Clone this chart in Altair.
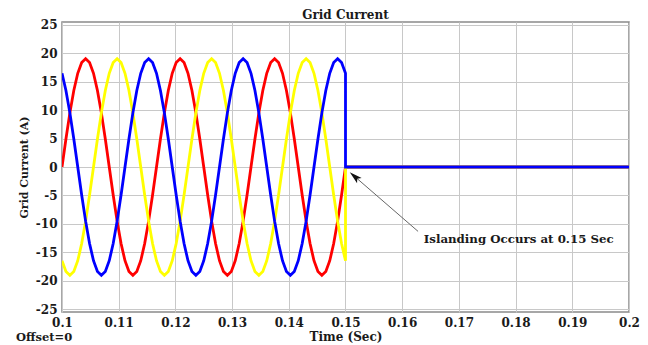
import altair as alt
import pandas as pd

# Time samples (s) for the grid-connected interval 0.1 .. 0.15
time = [0.1, 0.100694, 0.101389, 0.102083, 0.102778, 0.103472, 0.104167, 0.104861,
        0.105556, 0.10625, 0.106944, 0.107639, 0.108333, 0.109028, 0.109722, 0.110417,
        0.111111, 0.111806, 0.1125, 0.113194, 0.113889, 0.114583, 0.115278, 0.115972,
        0.116667, 0.117361, 0.118056, 0.11875, 0.119444, 0.120139, 0.120833, 0.121528,
        0.122222, 0.122917, 0.123611, 0.124306, 0.125, 0.125694, 0.126389, 0.127083,
        0.127778, 0.128472, 0.129167, 0.129861, 0.130556, 0.13125, 0.131944, 0.132639,
        0.133333, 0.134028, 0.134722, 0.135417, 0.136111, 0.136806, 0.1375, 0.138194,
        0.138889, 0.139583, 0.140278, 0.140972, 0.141667, 0.142361, 0.143056, 0.14375,
        0.144444, 0.145139, 0.145833, 0.146528, 0.147222, 0.147917, 0.148611, 0.149306,
        0.15]

phase_a = [0, 4.92, 9.5, 13.43, 16.45, 18.35, 19, 18.35, 16.45, 13.43, 9.5, 4.92,
           0, -4.92, -9.5, -13.43, -16.45, -18.35, -19, -18.35, -16.45, -13.43, -9.5, -4.92,
           0, 4.92, 9.5, 13.43, 16.45, 18.35, 19, 18.35, 16.45, 13.43, 9.5, 4.92,
           0, -4.92, -9.5, -13.43, -16.45, -18.35, -19, -18.35, -16.45, -13.43, -9.5, -4.92,
           0, 4.92, 9.5, 13.43, 16.45, 18.35, 19, 18.35, 16.45, 13.43, 9.5, 4.92,
           0, -4.92, -9.5, -13.43, -16.45, -18.35, -19, -18.35, -16.45, -13.43, -9.5, -4.92,
           0]

phase_b = [-16.45, -18.35, -19, -18.35, -16.45, -13.43, -9.5, -4.92, 0, 4.92, 9.5, 13.43,
           16.45, 18.35, 19, 18.35, 16.45, 13.43, 9.5, 4.92, 0, -4.92, -9.5, -13.43,
           -16.45, -18.35, -19, -18.35, -16.45, -13.43, -9.5, -4.92, 0, 4.92, 9.5, 13.43,
           16.45, 18.35, 19, 18.35, 16.45, 13.43, 9.5, 4.92, 0, -4.92, -9.5, -13.43,
           -16.45, -18.35, -19, -18.35, -16.45, -13.43, -9.5, -4.92, 0, 4.92, 9.5, 13.43,
           16.45, 18.35, 19, 18.35, 16.45, 13.43, 9.5, 4.92, 0, -4.92, -9.5, -13.43,
           -16.45]

phase_c = [16.45, 13.43, 9.5, 4.92, 0, -4.92, -9.5, -13.43, -16.45, -18.35, -19, -18.35,
           -16.45, -13.43, -9.5, -4.92, 0, 4.92, 9.5, 13.43, 16.45, 18.35, 19, 18.35,
           16.45, 13.43, 9.5, 4.92, 0, -4.92, -9.5, -13.43, -16.45, -18.35, -19, -18.35,
           -16.45, -13.43, -9.5, -4.92, 0, 4.92, 9.5, 13.43, 16.45, 18.35, 19, 18.35,
           16.45, 13.43, 9.5, 4.92, 0, -4.92, -9.5, -13.43, -16.45, -18.35, -19, -18.35,
           -16.45, -13.43, -9.5, -4.92, 0, 4.92, 9.5, 13.43, 16.45, 18.35, 19, 18.35,
           16.45]

# After islanding (0.15 s) all currents are zero until 0.2 s
after_time = [0.15, 0.2]
after_value = [0, 0]

series_names = ["Ia", "Ib", "Ic"]
series_colors = ["#ff0000", "#ffff00", "#0000ff"]

x_ticks = [0.1, 0.11, 0.12, 0.13, 0.14, 0.15, 0.16, 0.17, 0.18, 0.19, 0.2]
y_ticks = [-25, -20, -15, -10, -5, 0, 5, 10, 15, 20, 25]

annotation_text = ["Islanding Occurs at 0.15 Sec"]
annotation_pos = [(0.1638, -12.7)]
arrow_tail = [(0.1628, -11.3)]
arrow_head = [(0.1516, -1.65)]

rows = []
for name, vals in zip(series_names, [phase_a, phase_b, phase_c]):
    t_all = time + after_time
    v_all = vals + after_value
    for i, (t, v) in enumerate(zip(t_all, v_all)):
        rows.append({"series": name, "t": t, "i": v, "idx": i})
df = pd.DataFrame(rows)

FONT = "DejaVu Serif"
TXT = "#1a1a1a"

xscale = alt.Scale(domain=[0.1, 0.2], nice=False, zero=False)
yscale = alt.Scale(domain=[-25.45, 25.45], nice=False, zero=False)

x_axis = alt.Axis(values=x_ticks, format=".2~f", title="Time (Sec)",
                  grid=True, gridColor="#c8c8c8", gridWidth=1,
                  ticks=False, domain=False, labelPadding=5,
                  labelOverlap=False,
                  labelFont=FONT, labelFontWeight="bold", labelFontSize=12,
                  labelColor=TXT, labelFlush=False,
                  titleFont=FONT, titleFontWeight="bold", titleFontSize=12,
                  titleColor=TXT, titlePadding=3)
y_axis = alt.Axis(values=y_ticks, labelExpr="'' + datum.value",
                  title="Grid Current (A)",
                  grid=True, gridColor="#c8c8c8", gridWidth=1,
                  ticks=False, domain=False, labelPadding=5,
                  labelOverlap=False,
                  labelFont=FONT, labelFontWeight="bold", labelFontSize=12,
                  labelColor=TXT, labelFlush=False,
                  titleFont=FONT, titleFontWeight="bold", titleFontSize=11,
                  titleColor=TXT, titleX=-38, titleBaseline="middle")


def X(field):
    return alt.X(field, scale=xscale, axis=x_axis)


def Y(field):
    return alt.Y(field, scale=yscale, axis=y_axis)


lines = alt.Chart(df).mark_line(strokeWidth=2.8, clip=True).encode(
    x=X("t:Q"),
    y=Y("i:Q"),
    color=alt.Color("series:N", scale=alt.Scale(domain=series_names, range=series_colors),
                    legend=None),
    order=alt.Order("idx:Q"),
)

ann_df = pd.DataFrame({"text": annotation_text,
                       "x": [p[0] for p in annotation_pos],
                       "y": [p[1] for p in annotation_pos]})
ann = alt.Chart(ann_df).mark_text(align="left", baseline="middle", font=FONT,
                                  fontWeight="bold", fontSize=11.8, color=TXT).encode(
    x=X("x:Q"), y=Y("y:Q"), text="text:N")

arr_df = pd.DataFrame({"x": [arrow_tail[0][0]], "y": [arrow_tail[0][1]],
                       "x2": [arrow_head[0][0]], "y2": [arrow_head[0][1]]})
arrow_line = alt.Chart(arr_df).mark_rule(color="#666666", strokeWidth=1).encode(
    x=X("x:Q"), y=Y("y:Q"), x2="x2:Q", y2="y2:Q")

head_df = pd.DataFrame({"x": [arrow_head[0][0]], "y": [arrow_head[0][1]]})
arrow_headmark = alt.Chart(head_df).mark_point(
    shape="M0,-1L0.55,1L0,0.55L-0.55,1Z", filled=True, color="#111111",
    size=160, angle=311, opacity=1).encode(
    x=X("x:Q"), y=Y("y:Q"))

offset_df = pd.DataFrame({"text": ["Offset=0"]})
offset_txt = alt.Chart(offset_df).mark_text(align="left", baseline="middle", font=FONT,
                                            fontWeight="bold", fontSize=11.5,
                                            color=TXT).encode(
    x=alt.value(-46), y=alt.value(316), text="text:N")

chart = alt.layer(lines, arrow_line, arrow_headmark, ann, offset_txt).properties(
    width=567, height=290,
    title=alt.TitleParams("Grid Current", font=FONT, fontWeight="bold", fontSize=12,
                          color=TXT, offset=0, dy=3, anchor="middle"),
    autosize=alt.AutoSizeParams(type="none"),
    padding={"left": 62, "top": 22, "right": 19, "bottom": 33},
    background="white",
).configure_view(stroke="#8a8a8a", strokeWidth=1.5)

chart.save("out.html", embed_options={"renderer": "svg", "actions": False})
